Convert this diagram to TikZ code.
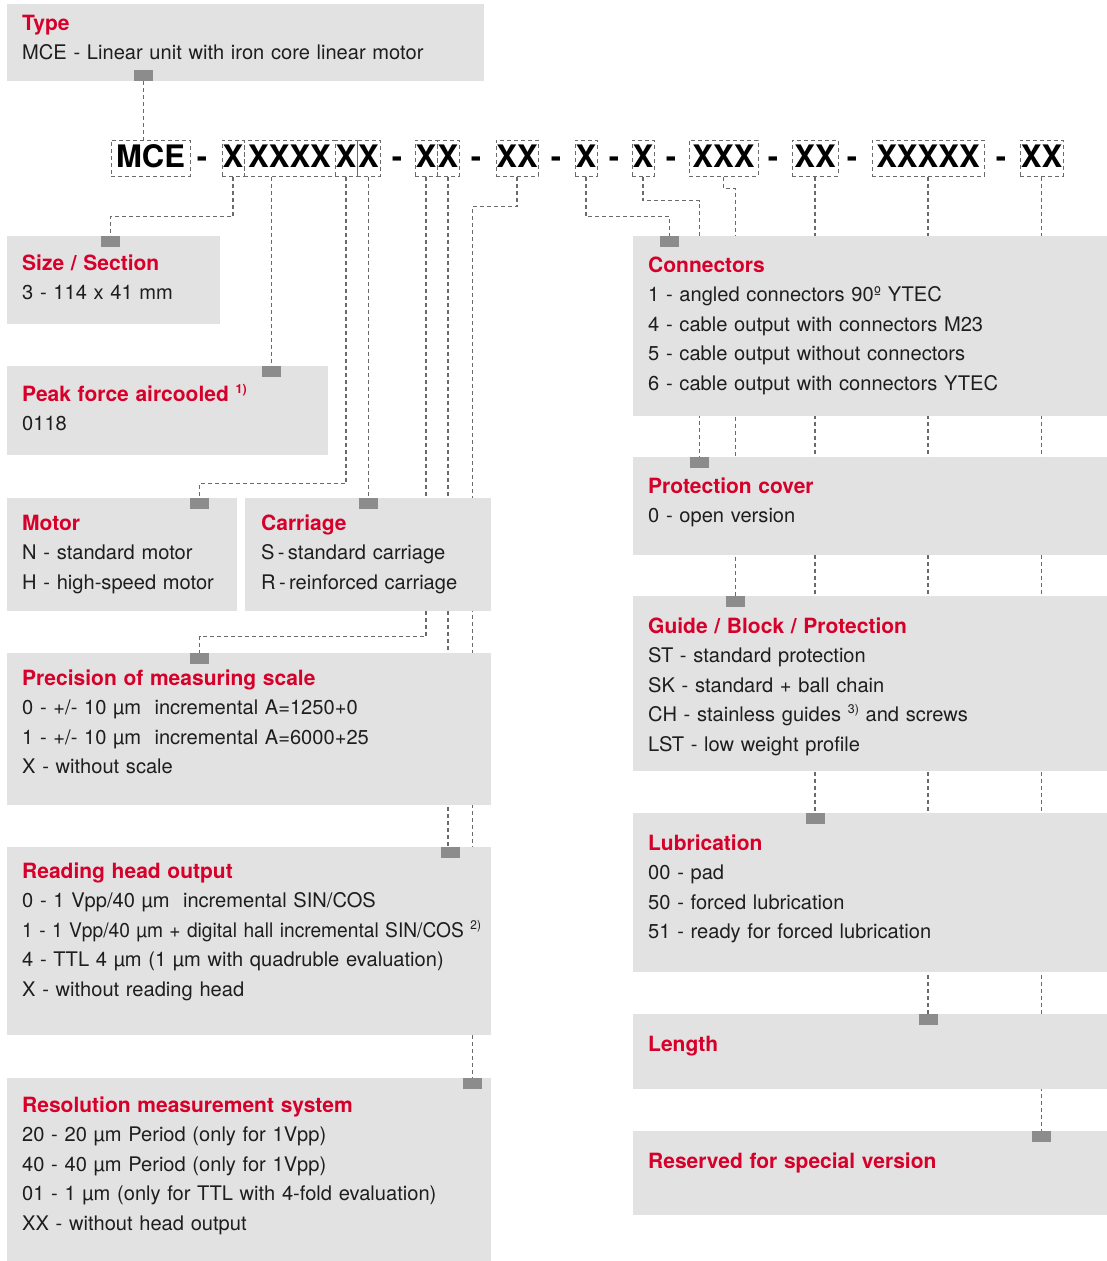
\documentclass[tikz,border=0pt]{standalone}
\usepackage{fontspec}
\usepackage{graphicx}
\setmainfont{TeX Gyre Heros}
\usetikzlibrary{calc}
\pgfdeclarelayer{bg}
\pgfsetlayers{bg,main}
\definecolor{boxgray}{HTML}{E2E2E2}
\definecolor{tabgray}{HTML}{8C8C8C}
\definecolor{linegray}{HTML}{6A6A6A}
\definecolor{titlered}{HTML}{D6002A}
\definecolor{txtcol}{HTML}{1E1E1E}
\newcommand\fnmark[1]{\raisebox{8pt}{\fontsize{12.5}{12.5}\selectfont #1}}
\newcommand\ttl[1]{{\fontsize{21}{29.5}\selectfont\color{titlered}\bfseries #1}}
\begin{document}
\begin{tikzpicture}[x=1pt,y=-1pt,
  infobox/.style={fill=boxgray, inner sep=0pt, anchor=north west, draw=none},
  infotext/.style={anchor=north west, inner sep=0pt, align=left, text width=480pt,
     font=\fontsize{20.1}{29.5}\selectfont, text=txtcol},
  tabmark/.style={fill=tabgray, minimum width=19pt, minimum height=11pt, inner sep=0pt, anchor=north},
  codebox/.style={draw=linegray, line width=1pt, dash pattern=on 4pt off 3pt, inner sep=0pt,
     minimum height=36pt, text height=18pt, text depth=0pt, font=\fontsize{31}{31}\selectfont\bfseries},
  codesep/.style={anchor=base, inner sep=0pt, font=\fontsize{31}{31}\selectfont\bfseries},
  conn/.style={draw=linegray, line width=1.1pt, dash pattern=on 4pt off 3pt}
]
\useasboundingbox (0,0) rectangle (1107,1261);

% ---------- code line ----------
\node[codebox, minimum width=79pt] (mce) at (150.5,158) {MCE};
\node[codesep] (d1) at (202,167) {-};
\node[codebox, minimum width=22pt] (x1) at (233,158) {X};
\node[codebox, minimum width=91pt] (x2) at (289.5,158) {XXXX};
\node[codebox, minimum width=22pt] (x3) at (346,158) {X};
\node[codebox, minimum width=23pt] (x4) at (368.5,158) {X};
\node[codesep] (d2) at (397,167) {-};
\node[codebox, minimum width=22pt] (y1) at (426,158) {X};
\node[codebox, minimum width=22pt] (y2) at (448,158) {X};
\node[codesep] (d3) at (476,167) {-};
\node[codebox, minimum width=42pt] (z1) at (517,158) {XX};
\node[codesep] (d4) at (556,167) {-};
\node[codebox, minimum width=22pt] (w1) at (586,158) {X};
\node[codesep] (d5) at (614,167) {-};
\node[codebox, minimum width=22pt] (w2) at (643,158) {X};
\node[codesep] (d6) at (671,167) {-};
\node[codebox, minimum width=69pt] (w3) at (723.5,158) {XXX};
\node[codesep] (d7) at (773,167) {-};
\node[codebox, minimum width=46pt] (w4) at (815,158) {XX};
\node[codesep] (d8) at (852,167) {-};
\node[codebox, minimum width=112pt] (w5) at (928,158) {XXXXX};
\node[codesep] (d9) at (1001,167) {-};
\node[codebox, minimum width=43pt] (w6) at (1041.5,158) {XX};

% ---------- left boxes ----------
\node[infobox, minimum width=477pt, minimum height=77pt] (bType) at (7,4) {};
\node[infotext] (tyText) at (22,10) {\rule{0pt}{20pt}\ttl{Type}\\MCE - Linear unit with iron core linear motor};
\node[tabmark, anchor=south] (tType) at (143.5,81) {};

\node[infobox, minimum width=213pt, minimum height=88pt] (bSize) at (7,236) {};
\node[infotext] (szText) at (22,250) {\rule{0pt}{20pt}\ttl{Size / Section}\\3 - 114 x 41 mm};
\node[tabmark] (tSize) at (110.5,236) {};

\node[infobox, minimum width=321pt, minimum height=89pt] (bPeak) at (7,366) {};
\node[infotext] (pkText) at (22,381) {\rule{0pt}{20pt}\ttl{Peak force aircooled \fnmark{1)}}\\0118};
\node[tabmark] (tPeak) at (271.5,366) {};

\node[infobox, minimum width=230pt, minimum height=113pt] (bMotor) at (7,498) {};
\node[infotext] (moText) at (22,510) {\rule{0pt}{20pt}\ttl{Motor}\\N - standard motor\\H - high-speed motor};
\node[tabmark] (tMotor) at (199.5,498) {};

\node[infobox, minimum width=246pt, minimum height=113pt] (bCarr) at (245,498) {};
\node[infotext] (caText) at (261,510) {\rule{0pt}{20pt}\ttl{Carriage}\\S\,-\,standard carriage\\R\,-\,reinforced carriage};
\node[tabmark] (tCarr) at (368.5,498) {};

\node[infobox, minimum width=484pt, minimum height=152pt] (bPrec) at (7,653) {};
\node[infotext] (prText) at (22,665) {\rule{0pt}{20pt}\ttl{Precision of measuring scale}\\0 - +/- 10 µm\ \ incremental A=1250+0\\1 - +/- 10 µm\ \ incremental A=6000+25\\X - without scale};
\node[tabmark] (tPrec) at (199.5,653) {};

\node[infobox, minimum width=484pt, minimum height=188pt] (bRead) at (7,847) {};
\node[infotext] (rdText) at (22,858) {\rule{0pt}{20pt}\ttl{Reading head output}\\0 - 1 Vpp/40 µm\ \ incremental SIN/COS\\\scalebox{0.955}[1]{1 - 1 Vpp/40 µm + digital hall incremental SIN/COS \fnmark{2)}}\\4 - TTL 4 µm (1 µm with quadruble evaluation)\\X - without reading head};
\node[tabmark] (tRead) at (450,847) {};

\node[infobox, minimum width=484pt, minimum height=183pt] (bRes) at (7,1078) {};
\node[infotext] (rsText) at (22,1092) {\rule{0pt}{20pt}\ttl{Resolution measurement system}\\20 - 20 µm Period (only for 1Vpp)\\40 - 40 µm Period (only for 1Vpp)\\01 - 1 µm (only for TTL with 4-fold evaluation)\\XX - without head output};
\node[tabmark] (tRes) at (472.5,1078) {};

% ---------- right boxes ----------
\node[infobox, minimum width=474pt, minimum height=180pt] (bConn) at (633,236) {};
\node[infotext] (cnText) at (648,252) {\rule{0pt}{20pt}\ttl{Connectors}\\1 - angled connectors 90º YTEC\\4 - cable output with connectors M23\\5 - cable output without connectors\\6 - cable output with connectors YTEC};
\node[tabmark] (tConn) at (669.5,236) {};

\node[infobox, minimum width=474pt, minimum height=98pt] (bProt) at (633,457) {};
\node[infotext] (pcText) at (648,473) {\rule{0pt}{20pt}\ttl{Protection cover}\\0 - open version};
\node[tabmark] (tProt) at (699.5,457) {};

\node[infobox, minimum width=474pt, minimum height=175pt] (bGuide) at (633,596) {};
\node[infotext] (gdText) at (648,613) {\rule{0pt}{20pt}\ttl{Guide / Block / Protection}\\ST - standard protection\\SK - standard + ball chain\\CH - stainless guides \fnmark{3)} and screws\\LST - low weight profile};
\node[tabmark] (tGuide) at (735.5,596) {};

\node[infobox, minimum width=474pt, minimum height=159pt] (bLub) at (633,813) {};
\node[infotext] (lbText) at (648,830) {\rule{0pt}{20pt}\ttl{Lubrication}\\00 - pad\\50 - forced lubrication\\51 - ready for forced lubrication};
\node[tabmark] (tLub) at (815,813) {};

\node[infobox, minimum width=474pt, minimum height=75pt] (bLen) at (633,1014) {};
\node[infotext] (lnText) at (648,1031) {\rule{0pt}{20pt}\ttl{Length}};
\node[tabmark] (tLen) at (928,1014) {};

\node[infobox, minimum width=474pt, minimum height=84pt] (bRsv) at (633,1131) {};
\node[infotext] (rvText) at (648,1148) {\rule{0pt}{20pt}\ttl{Reserved for special version}};
\node[tabmark] (tRsv) at (1041.5,1131) {};

% ---------- connectors ----------
\begin{pgfonlayer}{bg}
\draw[conn] (tType.south) -- (tType.south |- mce.north);
\draw[conn] (x1.south) -- ++(0,40) -| (tSize.north);
\draw[conn] (tPeak.north |- x2.south) -- (tPeak.north);
\draw[conn] (x3.south) -- ++(0,307) -| (tMotor.north);
\draw[conn] (x4.south) -- (tCarr.north);
\draw[conn] (y1.south) -- ++(0,460) -| (tPrec.north);
\draw[conn] (y2.south) -- (y2.south |- tRead.north);
\draw[conn] (z1.south) -- ++(0,30) -| (tRes.north);
\draw[conn] (w1.south) -- ++(0,40) -| (tConn.north);
\draw[conn] (w2.south) -- ++(0,24) -| (tProt.north);
\draw[conn] (w3.south) -- ++(0,12) -| (tGuide.north);
\draw[conn] (w4.south) -- (tLub.north);
\draw[conn] (w5.south) -- (tLen.north);
\draw[conn] (w6.south) -- (tRsv.north);
\end{pgfonlayer}
\end{tikzpicture}
\end{document}
